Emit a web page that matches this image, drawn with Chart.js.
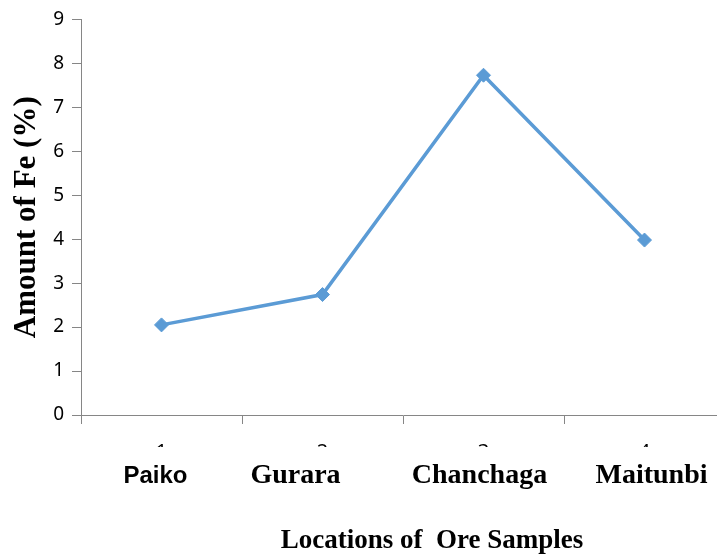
<!DOCTYPE html>
<html>
<head>
<meta charset="utf-8">
<script src="https://cdn.jsdelivr.net/npm/chart.js@4/dist/chart.umd.min.js"></script>
<style>
  html, body { margin: 0; padding: 0; background: #fff; overflow: hidden; }
  #wrap { width: 733px; height: 559px; }
</style>
</head>
<body>
<div id="wrap"><canvas id="feChart" width="733" height="559"></canvas></div>
<script>
// ore sample data
const sampleNumbers = ['1', '2', '3', '4'];
const locations = ['Paiko', 'Gurara', 'Chanchaga', 'Maitunbi'];
const feAmounts = [2.05, 2.74, 7.73, 3.98];
const yTicks = [0, 1, 2, 3, 4, 5, 6, 7, 8, 9];
const xTitle = 'Locations of  Ore Samples';

const lineBlue = '#5B9BD5';
const axisGray = '#868686';

// the category numbers are cut off in the original, names sit below them
const locationNames = {
  id: 'locationNames',
  afterDraw(chart) {
    const ctx = chart.ctx;
    const x = chart.scales.x;
    const nudge = [-6, -27, -4, 7];
    ctx.save();
    ctx.fillStyle = '#fff';
    ctx.fillRect(x.left, 447, chart.width - x.left, 14);
    ctx.fillStyle = '#000';
    ctx.textAlign = 'center';
    ctx.textBaseline = 'middle';
    locations.forEach((name, i) => {
      ctx.font = i === 0 ? 'bold 24px "Liberation Sans"' : 'bold 28px "Liberation Serif"';
      ctx.fillText(name, x.getPixelForValue(i) + nudge[i], 476);
    });
    ctx.font = 'bold 27px "Liberation Serif"';
    ctx.fillText(xTitle, (x.left + x.right) / 2 + 29, 541);
    ctx.restore();
  }
};

new Chart(document.getElementById('feChart').getContext('2d'), {
  type: 'line',
  data: {
    labels: sampleNumbers,
    datasets: [{
      data: feAmounts,
      borderColor: lineBlue,
      backgroundColor: lineBlue,
      borderWidth: 3.5,
      pointStyle: 'rectRot',
      pointRadius: 7,
      pointBorderWidth: 1,
      tension: 0,
    }]
  },
  options: {
    responsive: false,
    animation: false,
    layout: { padding: { top: 18, right: 0, left: 0, bottom: 0 } },
    plugins: { legend: { display: false }, tooltip: { enabled: false } },
    scales: {
      x: {
        offset: true,
        grid: { offset: true, drawOnChartArea: false, drawTicks: true, tickLength: 9, color: axisGray },
        border: { color: axisGray },
        ticks: { color: '#000', font: { family: 'Noto Sans', size: 20 }, padding: 16, maxRotation: 0 },
        afterFit(scale) { scale.height = 144; }
      },
      y: {
        min: 0,
        max: 9,
        afterBuildTicks(scale) { scale.ticks = yTicks.map(v => ({ value: v })); },
        grid: { drawOnChartArea: false, drawTicks: true, tickLength: 9, color: axisGray },
        border: { color: axisGray },
        ticks: { color: '#000', font: { family: 'Noto Sans', size: 19 }, padding: 8 },
        title: {
          display: true,
          text: 'Amount of Fe (%)',
          color: '#000',
          font: { family: 'Liberation Serif', size: 31, weight: 'bold' },
          padding: { top: 8, bottom: 0 }
        },
        afterFit(scale) { scale.width = 81; }
      }
    }
  },
  plugins: [locationNames]
});
</script>
</body>
</html>
